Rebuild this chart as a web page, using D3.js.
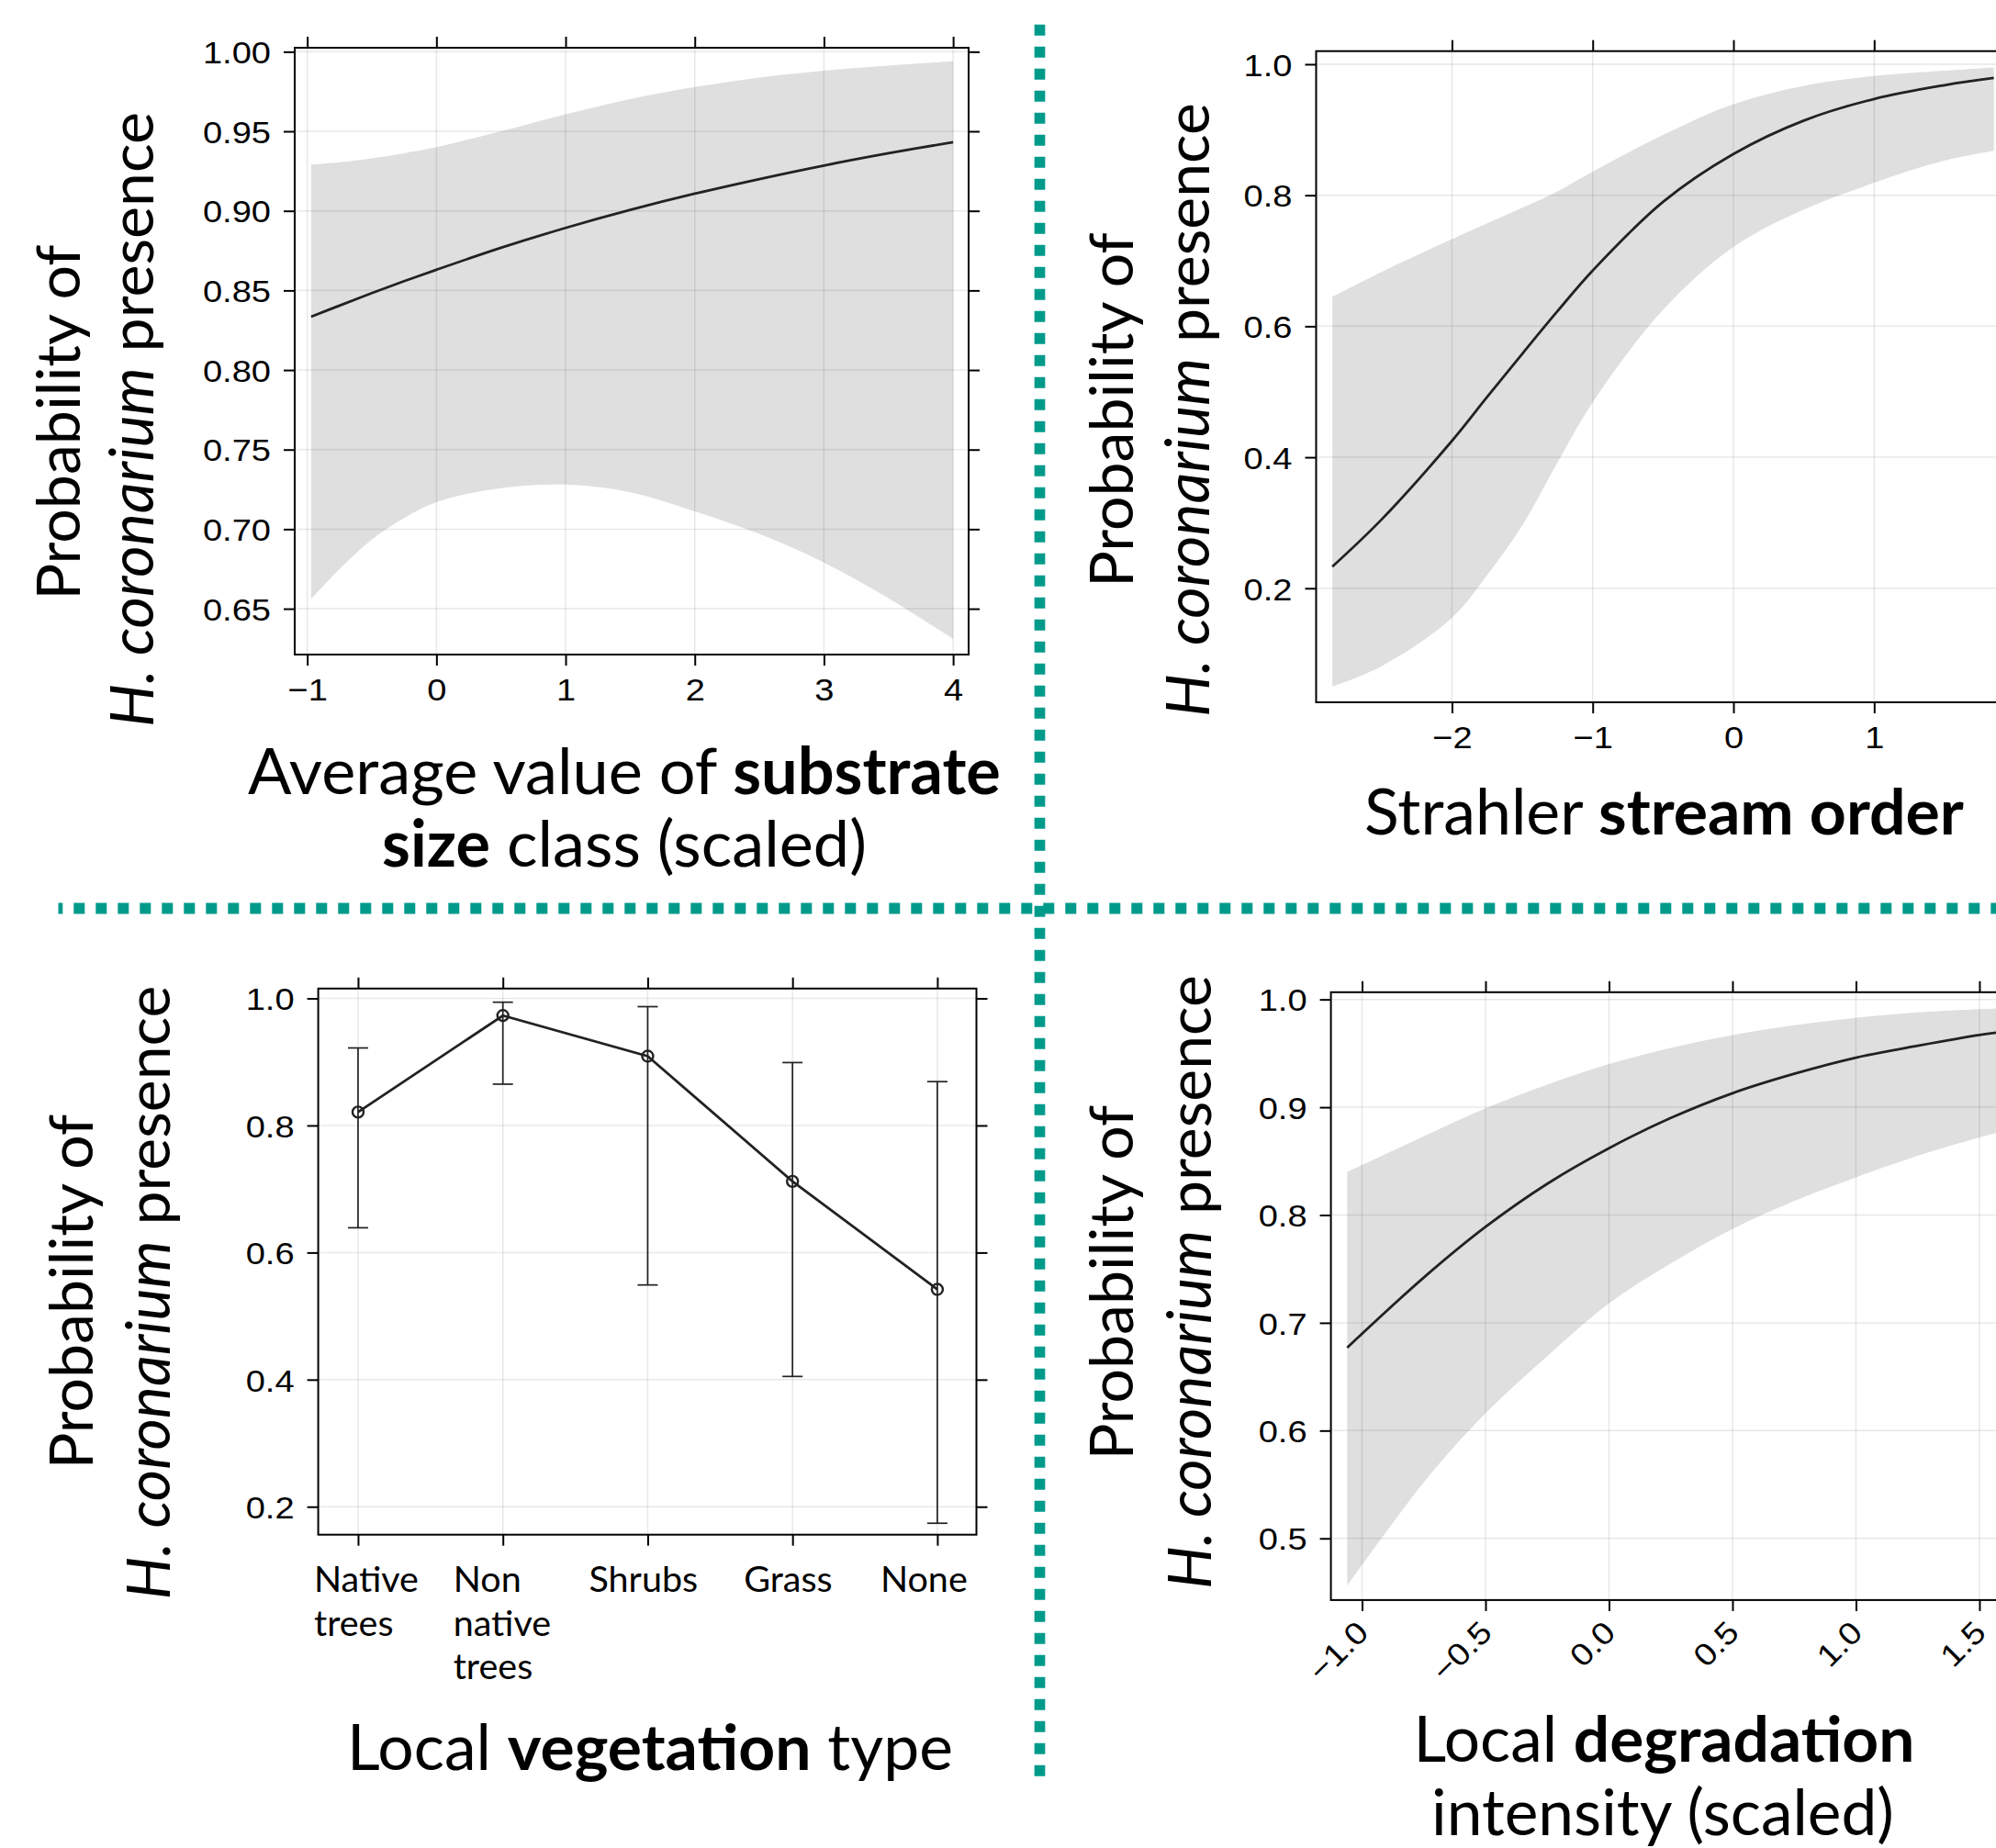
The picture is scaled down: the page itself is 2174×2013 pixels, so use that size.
<!DOCTYPE html>
<html>
<head>
<meta charset="utf-8">
<script src="https://cdn.jsdelivr.net/npm/d3@7"></script>
<style>
  html, body { margin: 0; padding: 0; background: #fff; }
  svg { display: block; }
</style>
</head>
<body>
<svg id="chart" width="2174" height="2013"></svg>
<script>
// ---------------- DATA ----------------
// Panel A: substrate size class
const substrateX     = [-0.97, -0.75, -0.5, -0.25, 0, 0.5, 1, 1.5, 2, 2.5, 3, 3.5, 4];
const substrateFit   = [0.8335, 0.8405, 0.8483, 0.8558, 0.8630, 0.8768, 0.8893, 0.9006, 0.9108, 0.9200, 0.9285, 0.9362, 0.9432];
const substrateUpper = [0.9290, 0.9305, 0.9330, 0.9362, 0.9400, 0.9500, 0.9607, 0.9702, 0.9778, 0.9838, 0.9881, 0.9913, 0.9940];
const substrateLower = [0.6560, 0.6750, 0.6935, 0.7070, 0.7170, 0.7258, 0.7280, 0.7232, 0.7112, 0.6970, 0.6790, 0.6565, 0.6310];
const substrateXTicks = [-1, 0, 1, 2, 3, 4];
const substrateXTickLabels = ["\u22121", "0", "1", "2", "3", "4"];
const substrateYTicks = [0.65, 0.70, 0.75, 0.80, 0.85, 0.90, 0.95, 1.00];
const substrateYTickLabels = ["0.65", "0.70", "0.75", "0.80", "0.85", "0.90", "0.95", "1.00"];

// Panel B: Strahler stream order
const streamX     = [-2.85, -2.5, -2, -1.75, -1.5, -1.25, -1, -0.5, 0, 0.5, 1, 1.5, 1.85];
const streamFit   = [0.233, 0.305, 0.425, 0.492, 0.558, 0.623, 0.685, 0.790, 0.863, 0.914, 0.947, 0.968, 0.979];
const streamUpper = [0.645, 0.683, 0.733, 0.757, 0.781, 0.806, 0.836, 0.892, 0.939, 0.967, 0.982, 0.990, 0.995];
const streamLower = [0.050, 0.081, 0.155, 0.220, 0.296, 0.392, 0.484, 0.625, 0.721, 0.778, 0.819, 0.853, 0.868];
const streamXTicks = [-2, -1, 0, 1];
const streamXTickLabels = ["\u22122", "\u22121", "0", "1"];
const streamYTicks = [0.2, 0.4, 0.6, 0.8, 1.0];
const streamYTickLabels = ["0.2", "0.4", "0.6", "0.8", "1.0"];

// Panel C: local vegetation type
const vegCategories = ["Native trees", "Non native trees", "Shrubs", "Grass", "None"];
const vegCategoryLines = [["Native", "trees"], ["Non", "native", "trees"], ["Shrubs"], ["Grass"], ["None"]];
const vegFit   = [0.821, 0.973, 0.909, 0.712, 0.542];
const vegUpper = [0.922, 0.994, 0.987, 0.899, 0.869];
const vegLower = [0.639, 0.865, 0.549, 0.405, 0.174];
const vegYTicks = [0.2, 0.4, 0.6, 0.8, 1.0];
const vegYTickLabels = ["0.2", "0.4", "0.6", "0.8", "1.0"];

// Panel D: local degradation intensity
const degX     = [-1.06, -0.75, -0.5, -0.25, 0, 0.25, 0.5, 0.75, 1, 1.25, 1.5, 1.6];
const degFit   = [0.677, 0.742, 0.789, 0.829, 0.862, 0.890, 0.913, 0.931, 0.946, 0.957, 0.967, 0.970];
const degUpper = [0.840, 0.873, 0.899, 0.921, 0.940, 0.955, 0.967, 0.976, 0.983, 0.988, 0.991, 0.992];
const degLower = [0.456, 0.552, 0.616, 0.669, 0.718, 0.755, 0.787, 0.813, 0.835, 0.855, 0.872, 0.878];
const degXTicks = [-1, -0.5, 0, 0.5, 1, 1.5];
const degXTickLabels = ["\u22121.0", "\u22120.5", "0.0", "0.5", "1.0", "1.5"];
const degYTicks = [0.5, 0.6, 0.7, 0.8, 0.9, 1.0];
const degYTickLabels = ["0.5", "0.6", "0.7", "0.8", "0.9", "1.0"];

// ---------------- STYLE ----------------
const TICK_FONT = "'Liberation Sans', Arial, Helvetica, sans-serif";
const TITLE_FONT = "Lato, 'Open Sans', sans-serif";
const TICK_SIZE_PX = 34;
const STRETCH = 1.12;
const BAND_FILL = "#dfdfdf";
const LINE_COLOR = "#222";
const GRID_COLOR = "rgba(0,0,0,0.09)";
const TEAL = "#009a8b";
const SMOOTH = d3.curveCatmullRom.alpha(0.5);

const svg = d3.select("#chart");
svg.append("rect").attr("width", 2174).attr("height", 2013).attr("fill", "#fff");

let clipCounter = 0;

function styleAxis(s) {
  s.select(".domain").remove();
  s.attr("font-size", TICK_SIZE_PX).attr("font-family", TICK_FONT);
  s.selectAll(".tick line").attr("stroke", "#000").attr("stroke-width", 2);
  s.selectAll(".tick text").attr("fill", "#000");
}

function stretchAround(sel) {
  sel.each(function () {
    const t = d3.select(this);
    const tx = +(t.attr("x") || 0);
    t.attr("transform", `translate(${tx},0) scale(${STRETCH},1) translate(${-tx},0)`);
  });
}

function panel(c) {
  const x = d3.scaleLinear().domain(c.xDomain).range([c.left, c.right]);
  const y = d3.scaleLinear().domain(c.yDomain).range([c.bottom, c.top]);
  const id = "clip" + (clipCounter++);
  svg.append("clipPath").attr("id", id).append("rect")
    .attr("x", c.left).attr("y", c.top)
    .attr("width", c.right - c.left).attr("height", c.bottom - c.top);
  const g = svg.append("g");
  const plot = g.append("g").attr("clip-path", `url(#${id})`);
  const bandLayer = plot.append("g");
  const grid = plot.append("g").attr("stroke", GRID_COLOR).attr("stroke-width", 1.5);
  grid.selectAll("line.gv").data(c.xTicks).join("line").attr("class", "gv")
    .attr("x1", d => x(d)).attr("x2", d => x(d)).attr("y1", c.top).attr("y2", c.bottom);
  grid.selectAll("line.gh").data(c.yTicks).join("line").attr("class", "gh")
    .attr("y1", d => y(d)).attr("y2", d => y(d)).attr("x1", c.left).attr("x2", c.right);
  const lineLayer = plot.append("g");

  g.append("rect")
    .attr("x", c.left).attr("y", c.top)
    .attr("width", c.right - c.left).attr("height", c.bottom - c.top)
    .attr("fill", "none").attr("stroke", "#000").attr("stroke-width", 2);

  const leftAxis = g.append("g").attr("transform", `translate(${c.left},0)`)
    .call(d3.axisLeft(y).tickValues(c.yTicks).tickFormat((d, i) => c.yLabels[i]).tickSize(12).tickPadding(14))
    .call(styleAxis);
  leftAxis.selectAll(".tick text").attr("dy", "0.36em").call(stretchAround);

  g.append("g").attr("transform", `translate(${c.right},0)`)
    .call(d3.axisRight(y).tickValues(c.yTicks).tickFormat(() => "").tickSize(12))
    .call(styleAxis);
  g.append("g").attr("transform", `translate(0,${c.top})`)
    .call(d3.axisTop(x).tickValues(c.xTicks).tickFormat(() => "").tickSize(12))
    .call(styleAxis);
  const fmt = c.xLabels ? ((d, i) => c.xLabels[i]) : (() => "");
  const bottomAxis = g.append("g").attr("transform", `translate(0,${c.bottom})`)
    .call(d3.axisBottom(x).tickValues(c.xTicks).tickFormat(fmt).tickSize(12).tickPadding(14))
    .call(styleAxis);
  if (c.rotateX) {
    bottomAxis.selectAll(".tick text").each(function () {
      const t = d3.select(this);
      const ax = 0, ay = 29;
      t.attr("x", ax).attr("y", ay).attr("dy", "0.35em").attr("text-anchor", "end")
        .attr("transform", `rotate(-45,${ax},${ay}) translate(${ax},${ay}) scale(${STRETCH},1) translate(${-ax},${-ay})`);
    });
  } else {
    bottomAxis.selectAll(".tick text").call(stretchAround);
  }
  return { x, y, g, bandLayer, lineLayer };
}

function drawBandAndLine(p, X, lo, hi, fit) {
  const idx = d3.range(X.length);
  p.bandLayer.append("path")
    .attr("d", d3.area().x(i => p.x(X[i])).y0(i => p.y(lo[i])).y1(i => p.y(hi[i])).curve(SMOOTH)(idx))
    .attr("fill", BAND_FILL);
  p.lineLayer.append("path")
    .attr("d", d3.line().x(i => p.x(X[i])).y(i => p.y(fit[i])).curve(SMOOTH)(idx))
    .attr("fill", "none").attr("stroke", LINE_COLOR).attr("stroke-width", 2.8);
}

function richText(parts, opt) {
  const t = svg.append("text")
    .attr("font-family", TITLE_FONT)
    .attr("text-anchor", "middle")
    .attr("fill", "#000")
    .style("white-space", "pre");
  if (opt.rotate) t.attr("transform", `translate(${opt.x},${opt.y}) rotate(-90)`);
  else t.attr("x", opt.x).attr("y", opt.y);
  parts.forEach(p => t.append("tspan").text(p.t)
    .attr("font-weight", p.b ? 700 : 400)
    .attr("font-style", p.i ? "italic" : "normal"));
  return t;
}
function fitWidth(t, width) {
  t.attr("font-size", 100);
  const w = t.node().getComputedTextLength();
  const s = 100 * width / w;
  t.attr("font-size", s);
  return s;
}

function yTitle(cy1, bx1, cy2, bx2, width) {
  const l2 = richText([{ t: "H. coronarium", i: true }, { t: " presence" }], { rotate: true, x: bx2, y: cy2 });
  const s = fitWidth(l2, width);
  richText([{ t: "Probability of" }], { rotate: true, x: bx1, y: cy1 }).attr("font-size", s);
}

// ---------------- PANEL A ----------------
const pA = panel({
  left: 321, right: 1055, top: 52, bottom: 713,
  xDomain: [-1.097, 4.12], yDomain: [0.6212, 1.0025],
  xTicks: substrateXTicks, xLabels: substrateXTickLabels,
  yTicks: substrateYTicks, yLabels: substrateYTickLabels
});
drawBandAndLine(pA, substrateX, substrateLower, substrateUpper, substrateFit);
{
  const l1 = richText([{ t: "Average value of " }, { t: "substrate", b: true }], { x: 680, y: 865 });
  const s = fitWidth(l1, 820);
  richText([{ t: "size", b: true }, { t: " class (scaled)" }], { x: 680, y: 944 }).attr("font-size", s);
}
yTitle(460, 86.5, 457, 167, 670);

// ---------------- PANEL B ----------------
const pB = panel({
  left: 1433.5, right: 2194.6, top: 55.7, bottom: 765,
  xDomain: [-2.965, 2.0], yDomain: [0.0259, 1.02],
  xTicks: streamXTicks, xLabels: streamXTickLabels,
  yTicks: streamYTicks, yLabels: streamYTickLabels
});
drawBandAndLine(pB, streamX, streamLower, streamUpper, streamFit);
{
  const t = richText([{ t: "Strahler " }, { t: "stream order", b: true }], { x: 1812.5, y: 909 });
  fitWidth(t, 653);
}
yTitle(446.5, 1233.5, 446.5, 1317, 669);

// ---------------- PANEL C ----------------
const pC = panel({
  left: 346.6, right: 1063.5, top: 1076.8, bottom: 1671.7,
  xDomain: [-0.275, 4.27], yDomain: [0.156, 1.0155],
  xTicks: d3.range(vegCategories.length), xLabels: null,
  yTicks: vegYTicks, yLabels: vegYTickLabels
});
{
  const idx = d3.range(vegCategories.length);
  const eb = pC.g.append("g").attr("stroke", LINE_COLOR).attr("stroke-width", 1.7);
  eb.selectAll("line.bar").data(idx).join("line").attr("class", "bar")
    .attr("x1", i => pC.x(i)).attr("x2", i => pC.x(i))
    .attr("y1", i => pC.y(vegLower[i])).attr("y2", i => pC.y(vegUpper[i]));
  eb.selectAll("line.capU").data(idx).join("line").attr("class", "capU")
    .attr("x1", i => pC.x(i) - 11).attr("x2", i => pC.x(i) + 11)
    .attr("y1", i => pC.y(vegUpper[i])).attr("y2", i => pC.y(vegUpper[i]));
  eb.selectAll("line.capL").data(idx).join("line").attr("class", "capL")
    .attr("x1", i => pC.x(i) - 11).attr("x2", i => pC.x(i) + 11)
    .attr("y1", i => pC.y(vegLower[i])).attr("y2", i => pC.y(vegLower[i]));
  pC.g.append("path")
    .attr("d", d3.line().x(i => pC.x(i)).y(i => pC.y(vegFit[i]))(idx))
    .attr("fill", "none").attr("stroke", LINE_COLOR).attr("stroke-width", 2.8);
  pC.g.selectAll("circle.pt").data(idx).join("circle").attr("class", "pt")
    .attr("cx", i => pC.x(i)).attr("cy", i => pC.y(vegFit[i])).attr("r", 6)
    .attr("fill", "none").attr("stroke", LINE_COLOR).attr("stroke-width", 2.4);

  const labelLeftOffset = [-48, -54, -64, -53, -62];
  const firstBaseline = 1734, lineGap = 47.5;
  let catSize = null;
  vegCategoryLines.forEach((lines, i) => {
    lines.forEach((ln, j) => {
      const t = svg.append("text")
        .attr("font-family", TITLE_FONT)
        .attr("x", pC.x(i) + labelLeftOffset[i])
        .attr("y", firstBaseline + j * lineGap)
        .attr("fill", "#000")
        .text(ln);
      if (catSize === null) catSize = fitWidth(t, 114);
      else t.attr("font-size", catSize);
    });
  });
}
{
  const t = richText([{ t: "Local " }, { t: "vegetation", b: true }, { t: " type" }], { x: 708, y: 1928 });
  fitWidth(t, 660);
}
yTitle(1407, 101, 1408, 185, 669);

// ---------------- PANEL D ----------------
const pD = panel({
  left: 1449.6, right: 2223.2, top: 1080.8, bottom: 1742.9,
  xDomain: [-1.126, 1.75], yDomain: [0.4428, 1.0067],
  xTicks: degXTicks, xLabels: degXTickLabels,
  yTicks: degYTicks, yLabels: degYTickLabels, rotateX: true
});
drawBandAndLine(pD, degX, degLower, degUpper, degFit);
{
  const l1 = richText([{ t: "Local " }, { t: "degradation", b: true }], { x: 1812.5, y: 1919 });
  const s = fitWidth(l1, 546);
  richText([{ t: "intensity (scaled)" }], { x: 1811, y: 1999 }).attr("font-size", s);
}
yTitle(1397, 1233.5, 1396.5, 1319, 669);

// ---------------- DOTTED DIVIDERS ----------------
svg.append("line")
  .attr("x1", 1132.5).attr("x2", 1132.5).attr("y1", 26.7).attr("y2", 1934.7)
  .attr("stroke", TEAL).attr("stroke-width", 11.7).attr("stroke-dasharray", "12 12");
svg.append("line")
  .attr("x1", 63.5).attr("x2", 2174).attr("y1", 989.5).attr("y2", 989.5)
  .attr("stroke", TEAL).attr("stroke-width", 12).attr("stroke-dasharray", "12 12").attr("stroke-dashoffset", 7.2);
</script>
</body>
</html>
